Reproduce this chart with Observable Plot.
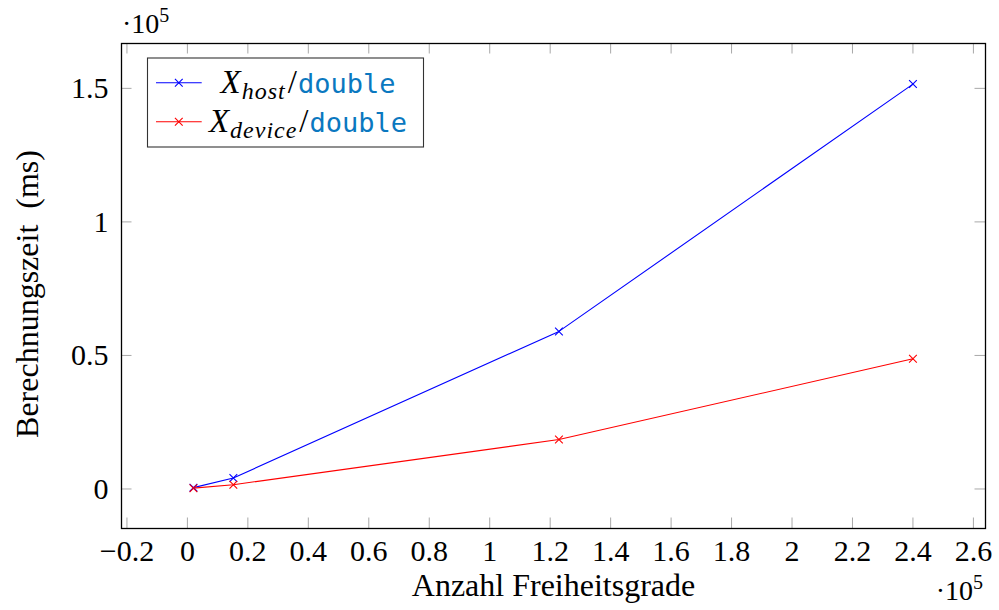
<!DOCTYPE html>
<html>
<head>
<meta charset="utf-8">
<script src="https://cdn.jsdelivr.net/npm/d3@7"></script>
<script src="https://cdn.jsdelivr.net/npm/@observablehq/plot@0.6"></script>
<style>
  html, body { margin: 0; padding: 0; background: #fff; }
  #chart { width: 999px; height: 610px; }
</style>
</head>
<body>
<div id="chart"></div>
<script>
// Data (x: Anzahl Freiheitsgrade, y: Berechnungszeit in ms)
const freiheitsgrade = [2000, 15200, 122900, 240000];
const hostMs = [500, 4100, 59000, 151600];
const deviceMs = [300, 1600, 18500, 48760];
const seriesNames = ["host", "device"];
const xTicks = [-20000, 0, 20000, 40000, 60000, 80000, 100000, 120000, 140000, 160000, 180000, 200000, 220000, 240000, 260000];
const yTicks = [0, 50000, 100000, 150000];

const hostData = freiheitsgrade.map((x, i) => ({x, y: hostMs[i]}));
const deviceData = freiheitsgrade.map((x, i) => ({x, y: deviceMs[i]}));

const fmt = d => String(+(d / 1e5).toFixed(1)).replace("-", "\u2212");

const W = 999, H = 610, mL = 121, mR = 14, mT = 43, mB = 82;
const plotW = W - mL - mR, plotH = H - mT - mB;
const tickLen = 10.5;
const tickColor = "#a8a8a8";
const serif = "'Liberation Serif', 'Times New Roman', serif";

const plot = Plot.plot({
  width: W, height: H,
  marginLeft: mL, marginRight: mR, marginTop: mT, marginBottom: mB,
  style: {fontFamily: serif, fontSize: "30px", background: "#fff", color: "#000"},
  x: {domain: [-21800, 264000]},
  y: {domain: [-14800, 166800]},
  marks: [
    // inner tick marks on all four sides
    Plot.tickX(xTicks, {x: d => d, stroke: tickColor, strokeWidth: 1, insetTop: plotH - tickLen}),
    Plot.tickX(xTicks, {x: d => d, stroke: tickColor, strokeWidth: 1, insetBottom: plotH - tickLen}),
    Plot.tickY(yTicks, {y: d => d, stroke: tickColor, strokeWidth: 1, insetRight: plotW - tickLen}),
    Plot.tickY(yTicks, {y: d => d, stroke: tickColor, strokeWidth: 1, insetLeft: plotW - tickLen}),
    Plot.axisX({ticks: xTicks, tickFormat: fmt, tickSize: 0, tickPadding: 11, label: null}),
    Plot.axisY({ticks: yTicks, tickFormat: fmt, tickSize: 0, tickPadding: 13, label: null}),
    Plot.line(hostData, {x: "x", y: "y", stroke: "#0000ff", strokeWidth: 1.1}),
    Plot.line(deviceData, {x: "x", y: "y", stroke: "#ff0000", strokeWidth: 1.1}),
    Plot.dot(hostData, {x: "x", y: "y", symbol: "times", r: 3.6, stroke: "#0000ff", strokeWidth: 1.1}),
    Plot.dot(deviceData, {x: "x", y: "y", symbol: "times", r: 3.6, stroke: "#ff0000", strokeWidth: 1.1}),
    Plot.frame({stroke: "#000", strokeWidth: 1.3}),
    Plot.text(["Anzahl Freiheitsgrade"], {frameAnchor: "bottom", textAnchor: "middle", dy: 67, lineAnchor: "bottom", fontSize: 32}),
    Plot.text(["Berechnungszeit\u2002(ms)"], {frameAnchor: "left", textAnchor: "middle", rotate: -90, dx: -84, dy: 8, lineAnchor: "bottom", fontSize: 32})
  ]
});

document.getElementById("chart").appendChild(plot);

// decorations: ·10^5 multipliers and legend
const svg = d3.select(plot);

function multiplier(x, y, anchor) {
  const t = svg.append("text")
    .attr("x", x).attr("y", y)
    .attr("text-anchor", anchor)
    .attr("font-family", serif)
    .attr("font-size", 28)
    .attr("fill", "#000");
  t.append("tspan").text("\u00B710");
  t.append("tspan").attr("dy", -11).attr("font-size", 20).text("5");
}
multiplier(122, 33, "start");
multiplier(983, 600, "end");

const legend = svg.append("g");
legend.append("rect")
  .attr("x", 147.5).attr("y", 58).attr("width", 276).attr("height", 89)
  .attr("fill", "#fff").attr("stroke", "#333").attr("stroke-width", 1.1);

const legendRows = [
  {name: seriesNames[0], color: "#0000ff", y: 82.7},
  {name: seriesNames[1], color: "#ff0000", y: 121.7}
];
const timesPath = d3.symbol(d3.symbolTimes, Math.PI * 3.6 * 3.6)();
legendRows.forEach(r => {
  legend.append("line")
    .attr("x1", 156).attr("x2", 201.7).attr("y1", r.y).attr("y2", r.y)
    .attr("stroke", r.color).attr("stroke-width", 1.1);
  legend.append("path")
    .attr("d", timesPath)
    .attr("transform", `translate(178.8,${r.y})`)
    .attr("fill", "none").attr("stroke", r.color).attr("stroke-width", 1.1);
  const t = legend.append("text")
    .attr("x", 308).attr("y", r.y + 10)
    .attr("text-anchor", "middle")
    .attr("font-family", serif)
    .attr("font-size", 33)
    .attr("fill", "#000");
  t.append("tspan").attr("font-style", "italic").text("X");
  t.append("tspan").attr("font-style", "italic").attr("font-size", 24).attr("dy", 6).attr("dx", 1).attr("letter-spacing", 1).text(r.name);
  t.append("tspan").attr("dy", -6).attr("dx", 2).text("/");
  t.append("tspan")
    .attr("dx", 1)
    .attr("font-family", "'DejaVu Sans Mono', monospace")
    .attr("font-size", 27)
    .attr("fill", "#0a78c0")
    .text("double");
});
</script>
</body>
</html>
